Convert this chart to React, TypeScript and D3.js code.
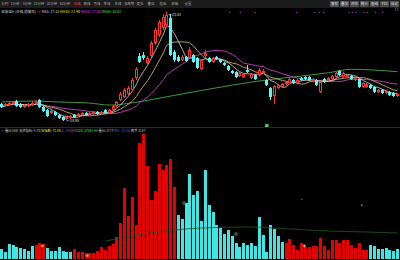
import React from 'react';
import * as d3 from 'd3';

const W = 400;
const H = 260;

// ---- daily candles (price) ----
const opens = [16.28,16.13,16.20,16.28,16.52,16.28,16.05,16.13,16.20,16.28,16.60,16.05,15.81,15.58,15.65,15.42,15.26,15.10,15.18,15.42,15.34,15.42,15.58,15.42,15.50,15.65,15.50,15.81,15.58,15.81,16.13,16.60,16.83,17.07,17.38,18.32,20.05,20.13,19.50,20.05,21.07,21.70,22.25,22.49,23.04,20.37,19.97,19.74,19.97,19.89,20.13,19.89,19.03,20.05,19.89,19.58,19.97,19.74,19.50,19.27,18.87,18.79,18.48,18.40,18.95,18.32,18.56,18.56,18.72,18.17,17.54,16.91,17.54,17.62,17.85,17.93,18.17,17.93,18.32,18.40,18.40,18.09,18.17,17.22,18.24,18.17,18.24,18.40,18.87,18.40,18.40,18.48,18.17,18.24,17.62,17.62,17.77,17.62,17.22,17.38,17.14,17.22,17.14,16.91];
const closes = [16.05,16.28,16.36,16.44,16.13,16.05,16.20,16.28,16.36,16.44,16.05,15.73,15.34,15.73,15.42,15.18,15.02,15.26,15.34,15.26,15.50,15.58,15.42,15.58,15.65,15.50,15.65,15.58,15.81,16.13,16.44,17.07,17.38,17.54,18.17,19.03,19.58,19.89,19.89,21.07,22.10,22.72,23.11,23.27,20.13,19.74,19.66,19.97,19.66,20.52,19.58,19.11,19.74,20.29,19.58,19.89,19.82,19.58,19.35,18.95,18.72,18.40,18.72,18.64,18.79,18.64,18.24,18.95,18.87,17.77,16.83,17.69,17.77,17.85,18.01,18.24,17.93,18.17,18.17,18.24,18.17,18.24,17.77,18.01,18.01,18.32,18.48,18.72,18.56,18.72,18.56,18.24,18.32,17.62,17.93,17.85,17.54,17.22,17.38,17.14,17.30,16.99,16.91,17.07];
const highs = [16.36,16.36,16.44,16.52,16.60,16.36,16.28,16.36,16.52,16.60,16.68,16.13,15.89,15.81,15.73,15.50,15.34,15.34,15.42,15.50,15.58,15.65,15.65,15.65,15.73,15.73,15.73,15.89,15.89,16.20,16.52,17.22,17.54,17.69,18.32,19.19,20.29,20.37,20.05,21.23,22.25,22.88,23.35,23.51,23.35,20.52,20.13,20.13,20.05,20.76,20.21,19.97,19.82,20.52,19.97,19.97,20.05,19.82,19.58,19.35,18.95,18.87,18.79,18.72,19.35,18.72,18.64,19.11,19.03,18.24,17.62,17.77,17.85,17.93,18.09,18.32,18.24,18.24,18.40,18.48,18.48,18.32,18.24,18.09,18.32,18.40,18.56,18.79,18.95,18.79,18.64,18.56,18.40,18.32,18.01,17.93,17.85,17.69,17.46,17.46,17.38,17.30,17.22,17.14];
const lows = [15.97,16.05,16.13,16.20,16.05,15.97,15.97,16.05,16.13,16.20,15.97,15.65,15.26,15.50,15.34,15.10,14.95,15.02,15.10,15.18,15.26,15.34,15.34,15.34,15.42,15.42,15.42,15.50,15.50,15.73,16.05,16.52,16.75,16.99,17.30,18.17,19.50,19.74,19.42,19.97,20.92,21.54,22.10,22.33,20.05,19.58,19.58,19.66,19.58,19.82,19.50,19.03,18.95,19.89,19.50,19.50,19.74,19.50,19.27,18.87,18.64,18.32,18.40,18.32,18.72,18.24,18.17,18.48,18.64,17.69,16.60,16.28,17.46,17.54,17.77,17.85,17.85,17.85,18.09,18.17,18.09,18.01,17.69,17.14,17.93,18.09,18.17,18.32,18.48,18.32,18.32,18.17,18.09,17.54,17.54,17.54,17.46,17.14,17.14,17.07,17.07,16.91,16.83,16.83];

// MA60 (bar index, price)
const ma60Index = [0, 8, 15, 23, 28, 34, 43, 52, 60, 69, 78, 85, 91, 97, 103];
const ma60Value = [16.44, 16.52, 16.44, 16.36, 16.20, 16.38, 16.85, 17.35, 17.77, 18.17, 18.48, 18.74, 19.01, 18.95, 18.82];

// ---- indicator panel (volume-ratio bars) ----
const volumes = [10,7,15,14,12,11,10,8,13,14,16,15,11,8,8,12,8,7,7,10,7,7,6,6,6,8,12,9,13,15,22,36,71,43,62,34,116,125,93,59,68,95,89,94,100,72,44,40,56,85,64,68,38,89,54,47,34,31,25,29,23,16,12,16,14,16,13,42,24,7,34,30,23,17,16,20,14,9,16,12,12,13,13,21,13,9,19,19,16,19,19,14,11,16,9,9,14,13,10,10,11,9,8,10];
// runs of the bar colour state: [first bar, last bar, state]
const stateRuns: [number, number, string][] = [[0,8,'down'],[9,11,'up'],[12,18,'down'],[19,45,'up'],[46,73,'down'],[74,95,'up'],[96,103,'down']];
const volMaIndex = [27, 35, 45, 52, 65, 75, 85, 95, 103];
const volMaValue = [18, 24, 29, 31, 32, 30, 28, 27, 26];

const toolbarLeft = ['分时','1分钟','5分钟','15分钟','30分钟','60分钟','日线','周线','月线','季线','年线','多周期','更多','叠加','指标','模板','设置'];
const toolbarPos = [5, 15, 27, 39, 52, 65, 77, 87, 97, 107, 118, 129, 140, 151, 163, 175, 188];
const toolbarRight = ['复权','叠加','评估','统计','画线','F10','标记'];

export default function App() {
  const n = opens.length;
  const x = d3.scaleLinear().domain([0, n]).range([0, W]);
  const bw = 3;
  const yP = d3.scaleLinear().domain([14.95, 23.51]).range([121, 12]);
  const yV = d3.scaleLinear().domain([0, 125]).range([259, 134]);
  const cx = (i: number) => Math.round(x(i)) + 1.5;

  const ma = (k: number) => closes.map((_, i) => {
    const s = Math.max(0, i - k + 1);
    return d3.mean(closes.slice(s, i + 1)) as number;
  });
  const lineP = d3.line<number>().x((_, i) => cx(i)).y(v => yP(v));
  const ma60Line = d3.line<number>().x((_, i) => cx(ma60Index[i])).y(v => yP(v)).curve(d3.curveMonotoneX);
  const volMaLine = d3.line<number>().x((_, i) => cx(volMaIndex[i])).y(v => yV(v)).curve(d3.curveMonotoneX);

  const RED = '#ff3333';
  const CYAN = '#55f8f8';
  const stateOf = (i: number) => stateRuns.find(r => i >= r[0] && i <= r[1])![2];

  const font = '"Noto Sans CJK SC", "DejaVu Sans", sans-serif';

  return (
    <div style={{ position: 'fixed', left: 0, top: 0, width: W, height: H }}>
      <svg width={W} height={H} style={{ display: 'block', background: '#000' }} fontFamily={font}>
        <rect x={0} y={0} width={W} height={H} fill="#000" />
        {/* toolbar */}
        <rect x={0} y={0} width={W} height={8} fill="#1c1c1c" />
        {toolbarLeft.map((t, i) => (
          <text key={i} x={toolbarPos[i]} y={5.3} fontSize={3.4} textAnchor="middle"
            fill={t === '日线' ? '#ff4040' : '#a8a8a8'}>{t}</text>
        ))}
        {toolbarRight.map((t, i) => (
          <g key={i}>
            <rect x={330 + i * 10} y={1} width={9} height={6} fill="#4a4a4a" />
            <text x={334.5 + i * 10} y={5.3} fontSize={3.4} fill="#e0e0e0" textAnchor="middle">{t}</text>
          </g>
        ))}
        {/* title line */}
        <text x={1} y={12.8} fontSize={3.6}>
          <tspan fill="#d0d0d0">深康佳A (日线,前复权) ◎ </tspan>
          <tspan fill="#d0d0d0">MA5: 17.15 </tspan>
          <tspan fill="#e0e040">MA10: 17.48 </tspan>
          <tspan fill="#e040e0">MA20: 17.85 </tspan>
          <tspan fill="#40e040">MA60: 18.82</tspan>
        </text>
        <circle cx={396.5} cy={9.3} r={1.5} fill="none" stroke="#777" strokeWidth={0.6} />

        {/* MA lines */}
        <path d={ma60Line(ma60Value) || ''} fill="none" stroke="#3d9a3d" strokeWidth={1} />
        <path d={lineP(ma(20)) || ''} fill="none" stroke="#b040b0" strokeWidth={1} />
        <path d={lineP(ma(10)) || ''} fill="none" stroke="#b8a060" strokeWidth={1} />
        <path d={lineP(ma(5)) || ''} fill="none" stroke="#d8d8d8" strokeWidth={0.8} />

        {/* candles */}
        {opens.map((o, i) => {
          const c = closes[i];
          const up = c >= o;
          const col = up ? RED : CYAN;
          const x0 = Math.round(x(i));
          const top = yP(Math.max(o, c));
          const bot = yP(Math.min(o, c));
          const h = Math.max(1, bot - top);
          return (
            <g key={i} shapeRendering="crispEdges">
              <line x1={x0 + 1.5} x2={x0 + 1.5} y1={yP(highs[i])} y2={top} stroke={col} strokeWidth={1} />
              <line x1={x0 + 1.5} x2={x0 + 1.5} y1={top + h} y2={yP(lows[i])} stroke={col} strokeWidth={1} />
              {up
                ? <rect x={x0 + 0.5} y={top + 0.5} width={bw - 1} height={Math.max(0, h - 1)} fill="#000" stroke={col} strokeWidth={1} />
                : <rect x={x0} y={top} width={bw} height={h} fill={col} />}
            </g>
          );
        })}
        {/* price high / low labels */}
        <text x={cx(43) + 2} y={15.5} fontSize={3.6} fill="#e0e0e0">←23.51</text>
        <text x={cx(16) + 3} y={122.3} fontSize={3.6} fill="#e0e0e0">←14.95</text>
        {/* purple signal dots */}
        {[229.3, 240.3, 255.3, 296.7, 315, 319.3, 323.7, 349, 352.3, 356, 364.3, 367.3, 375.7, 382.7].map((px, i) => (
          <circle key={i} cx={px} cy={12.3} r={0.6} fill="#c050e0" />
        ))}
        <rect x={265} y={124} width={3.5} height={3.5} fill="#6ac46a" stroke="#2a6a2a" strokeWidth={0.5} />

        {/* panel divider */}
        <line x1={0} x2={W} y1={127.5} y2={127.5} stroke="#6a0a0a" strokeWidth={1} />

        {/* indicator title */}
        <text x={1} y={132.3} fontSize={3.3}>
          <tspan fill="#d0d0d0">◎ 量比分析 多空指标: 4.70 </tspan>
          <tspan fill="#e0e040">压强数: 71.08 </tspan>
          <tspan fill="#e040e0">1: -73.08 </tspan>
          <tspan fill="#40e040">V120: 27585.44 </tspan>
          <tspan fill="#d0d0d0">量比: 0.77 </tspan>
          <tspan fill="#5070ff">DIF: -17.18 </tspan>
          <tspan fill="#d0d0d0">换手: 0.87</tspan>
        </text>

        {/* indicator bars */}
        {volumes.map((v, i) => (
          <rect key={i} x={Math.round(x(i))} y={yV(v)} width={bw} height={yV(0) - yV(v)}
            fill={stateOf(i) === 'up' ? '#e80000' : '#3ee6e6'} shapeRendering="crispEdges" />
        ))}
        <path d={volMaLine(volMaValue) || ''} fill="none" stroke="#1e5a1e" strokeWidth={0.8} />
        {/* signal markers */}
        {[[42.3, 246], [87.3, 255.7], [304.3, 246]].map((p, i) => (
          <circle key={i} cx={p[0]} cy={p[1]} r={1.4} fill="#f0a040" stroke="#a06010" strokeWidth={0.5} />
        ))}
        {[[184, 203], [236, 234]].map((p, i) => (
          <circle key={i} cx={p[0]} cy={p[1]} r={1.3} fill="none" stroke="#40b070" strokeWidth={0.8} />
        ))}
        <rect x={301} y={198.5} width={1.5} height={1.5} fill="#c02020" />
        <rect x={361} y={204.5} width={1.5} height={1.5} fill="#30d030" />
      </svg>
    </div>
  );
}
